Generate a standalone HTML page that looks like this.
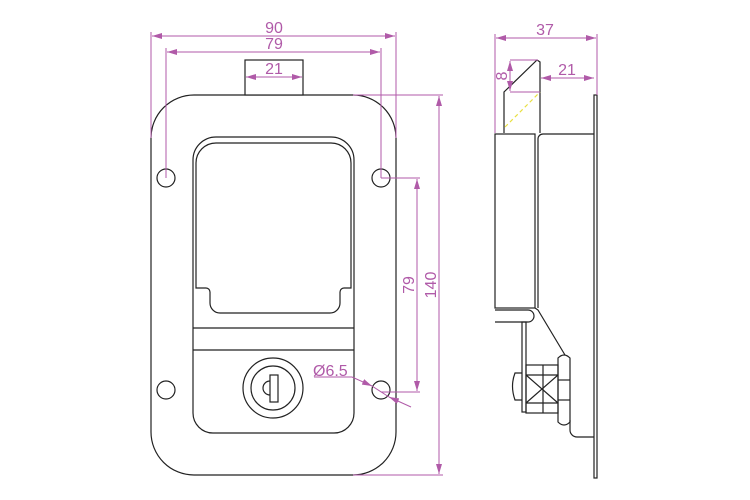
<!DOCTYPE html>
<html><head><meta charset="utf-8"><style>
html,body{margin:0;padding:0;background:#fff;width:750px;height:500px;overflow:hidden}
svg text{font-family:"Liberation Sans",sans-serif;fill:#b05aa8}
</style></head><body>
<svg width="750" height="500" viewBox="0 0 750 500" xmlns="http://www.w3.org/2000/svg">
<defs>
<marker id="a" viewBox="0 0 10 6" refX="10" refY="3" markerWidth="10" markerHeight="6" orient="auto-start-reverse" markerUnits="userSpaceOnUse"><path d="M0,0L10,3L0,6z" fill="#b05aa8"/></marker>
</defs>
<g fill="none" stroke="#222" stroke-width="1.2">
<path d="M151,138 A43,43 0 0 1 194,95 L353,95 A43,43 0 0 1 396,138 L396,432 A43,43 0 0 1 353,475 L194,475 A43,43 0 0 1 151,432 Z"/>
<rect x="245" y="60" width="58" height="35" fill="#fff"/>
<circle cx="166" cy="178" r="9"/><circle cx="381" cy="178" r="9"/>
<circle cx="166" cy="390" r="9"/><circle cx="381" cy="390" r="9"/>
<path d="M193,413 L193,160 A23,23 0 0 1 216,137 L331,137 A23,23 0 0 1 354,160 L354,413 A20,20 0 0 1 334,433 L213,433 A20,20 0 0 1 193,413 Z"/>
<path d="M196,288 L196,163 A20,20 0 0 1 216,143 L331,143 A20,20 0 0 1 351,163 L351,288 L344,288 A4,4 0 0 0 340,292 L340,303 A10,10 0 0 1 330,313 L220,313 A10,10 0 0 1 210,303 L210,292 A4,4 0 0 0 206,288 Z"/>
<line x1="193" y1="328" x2="354" y2="328"/>
<line x1="193" y1="350" x2="354" y2="350"/>
<circle cx="273" cy="388" r="30"/><circle cx="273" cy="388" r="22"/>
<rect x="270" y="375" width="8" height="27"/>
<path d="M270,381 A7,7 0 0 0 270,395"/>
<rect x="594" y="95" width="3" height="383"/>
<rect x="495" y="134" width="40" height="174"/>
<path d="M594,134 L543,134 A5,5 0 0 0 538,139 L538,308"/>
<path d="M504,133 L504,92 L537,60 L540,62 L540,133"/>
<path d="M495,310 L528,310 A6,6 0 0 1 534,316 A6,6 0 0 1 528,322 L495,322"/>
<path d="M535,308 L538,310 L565,355"/>
<rect x="522" y="322" width="4" height="90"/>
<rect x="526" y="365" width="32" height="48"/>
<line x1="526" y1="375" x2="558" y2="375"/><line x1="526" y1="403" x2="558" y2="403"/>
<line x1="543" y1="365" x2="543" y2="413"/>
<path d="M526,375 L558,403 M526,403 L558,375"/>
<path d="M558,358 Q564,352 570,358 L570,422 Q564,428 558,422 Z"/>
<line x1="558" y1="380" x2="570" y2="380"/><line x1="558" y1="400" x2="570" y2="400"/>
<path d="M522,373 L515,373 Q510,386 515,400 L522,400"/>
<path d="M570,420 L570,430 A7,7 0 0 0 577,437 L594,437"/>
</g>
<line x1="505" y1="127" x2="540" y2="92" stroke="#e8e040" stroke-width="1.2" stroke-dasharray="4,3"/>
<g stroke="#b05aa8" stroke-width="1" fill="none">
<line x1="151" y1="32" x2="151" y2="138"/><line x1="396" y1="32" x2="396" y2="138"/>
<line x1="152" y1="36" x2="395" y2="36" marker-start="url(#a)" marker-end="url(#a)"/>
<line x1="166" y1="48" x2="166" y2="178"/><line x1="381" y1="48" x2="381" y2="178"/>
<line x1="167" y1="52" x2="380" y2="52" marker-start="url(#a)" marker-end="url(#a)"/>
<line x1="246" y1="77" x2="302" y2="77" marker-start="url(#a)" marker-end="url(#a)"/>
<line x1="353" y1="95" x2="443" y2="95"/><line x1="353" y1="475" x2="443" y2="475"/>
<line x1="439" y1="96" x2="439" y2="474" marker-start="url(#a)" marker-end="url(#a)"/>
<line x1="381" y1="178" x2="420" y2="178"/><line x1="381" y1="392" x2="420" y2="392"/>
<line x1="417" y1="179" x2="417" y2="391" marker-start="url(#a)" marker-end="url(#a)"/>
<line x1="314" y1="377" x2="352" y2="377"/>
<line x1="352" y1="377" x2="372" y2="386" marker-end="url(#a)"/>
<line x1="411" y1="407" x2="389" y2="397" marker-end="url(#a)"/>
<line x1="372" y1="386" x2="389" y2="397"/>
<line x1="495" y1="34" x2="495" y2="133"/><line x1="597" y1="34" x2="597" y2="95"/>
<line x1="496" y1="38" x2="596" y2="38" marker-start="url(#a)" marker-end="url(#a)"/>
<line x1="510" y1="60" x2="538" y2="60"/><line x1="510" y1="92" x2="540" y2="92"/>
<line x1="510" y1="61" x2="510" y2="91" marker-start="url(#a)" marker-end="url(#a)"/>
<line x1="541" y1="78" x2="594" y2="78" marker-start="url(#a)" marker-end="url(#a)"/>
</g>
<g font-size="16">
<text x="274" y="33" text-anchor="middle">90</text>
<text x="274" y="49" text-anchor="middle">79</text>
<text x="274" y="74" text-anchor="middle">21</text>
<text x="545" y="35" text-anchor="middle">37</text>
<text x="567" y="75" text-anchor="middle">21</text>
<text x="313" y="376">Ø6.5</text>
<text transform="translate(414,285) rotate(-90)" text-anchor="middle">79</text>
<text transform="translate(436,285) rotate(-90)" text-anchor="middle">140</text>
<text transform="translate(507,76) rotate(-90)" text-anchor="middle">8</text>
</g>
</svg>
</body></html>
